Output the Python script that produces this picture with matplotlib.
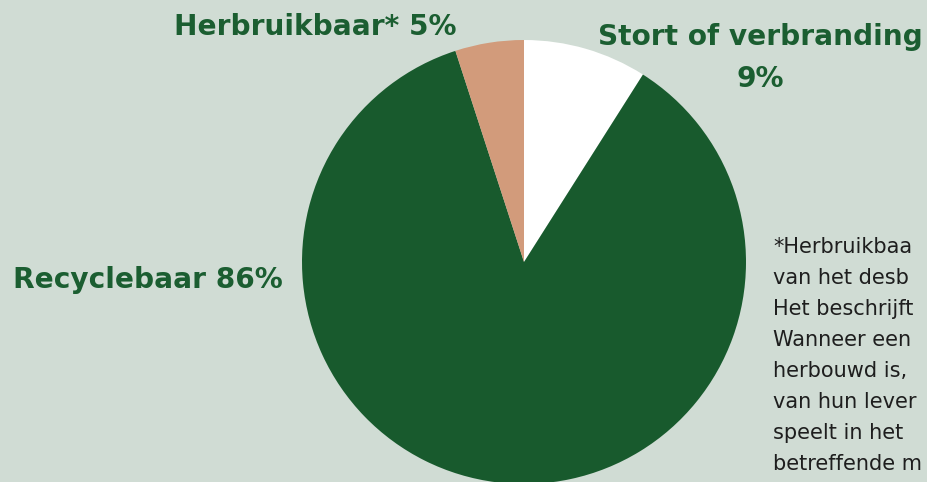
import matplotlib
matplotlib.use("Agg")
from matplotlib import pyplot as plt

labels = ["Stort of verbranding\n9%", "Recyclebaar 86%", "Herbruikbaar* 5%"]
values = [9, 86, 5]
colors = ["#ffffff", "#185a2d", "#d29b7b"]

# visible part of the footnote (cut off at the right edge in the original)
note_lines = [
    "*Herbruikbaa",
    "van het desb",
    "Het beschrijft",
    "Wanneer een",
    "herbouwd is,",
    "van hun lever",
    "speelt in het",
    "betreffende m",
]

bg = "#d0dcd4"
green = "#1b5e31"
W, H = 928, 482

fig = plt.figure(figsize=(W / 100, H / 100), dpi=100, facecolor=bg)

cx, cy, r = 524, 262, 222
ax = fig.add_axes([(cx - r) / W, (H - cy - r) / H, 2 * r / W, 2 * r / H])
ax.pie(values, colors=colors, startangle=90, counterclock=False, radius=1,
       wedgeprops=dict(linewidth=0))
ax.set_xlim(-1, 1)
ax.set_ylim(-1, 1)
ax.set_aspect("equal")
ax.axis("off")

def px(x, y):
    return x / W, 1 - y / H

font = "DejaVu Sans"
fig.text(*px(315, 27), labels[2], ha="center", va="center", fontsize=20.2,
         fontweight="bold", color=green, family=font)
fig.text(*px(760, 58), labels[0], ha="center", va="center", fontsize=20.2,
         fontweight="bold", color=green, family=font, linespacing=1.65)
fig.text(*px(148, 280), labels[1], ha="center", va="center", fontsize=20.2,
         fontweight="bold", color=green, family=font)

for i, line in enumerate(note_lines):
    fig.text(*px(773, 247 + 31 * i), line, ha="left", va="center", fontsize=15,
             color="#1e1e1e", family=font)

fig.savefig("out.png", dpi=100, facecolor=bg)
